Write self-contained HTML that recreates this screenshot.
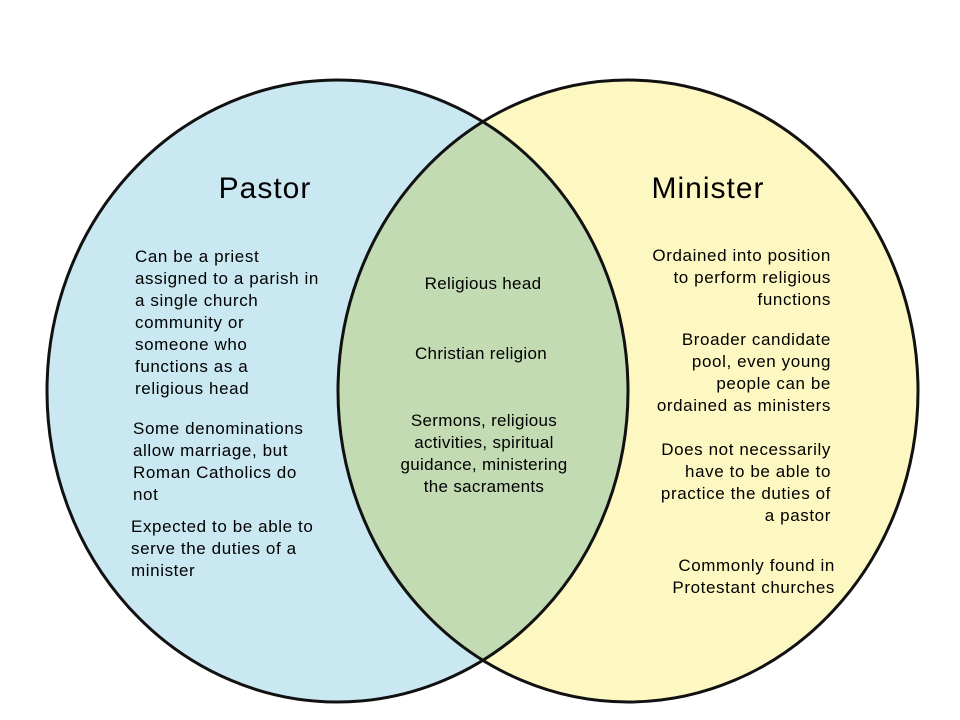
<!DOCTYPE html>
<html><head><meta charset="utf-8"><style>html,body{margin:0;padding:0;background:#fff}svg{display:block}</style></head>
<body>
<svg width="960" height="720" viewBox="0 0 960 720" xmlns="http://www.w3.org/2000/svg" font-family="Liberation Sans, Arial, sans-serif">
<defs>
<clipPath id="cl"><ellipse cx="337.5" cy="391" rx="290.5" ry="311"/></clipPath>
</defs>
<ellipse cx="337.5" cy="391" rx="290.5" ry="311" fill="#c9e8f2"/>
<ellipse cx="628" cy="391" rx="290" ry="311" fill="#fdf8c2"/>
<ellipse cx="628" cy="391" rx="290" ry="311" fill="#c2dbb3" clip-path="url(#cl)"/>
<ellipse cx="337.5" cy="391" rx="290.5" ry="311" fill="none" stroke="#111" stroke-width="3"/>
<ellipse cx="628" cy="391" rx="290" ry="311" fill="none" stroke="#111" stroke-width="3"/>
<g fill="#000" font-size="30" letter-spacing="1">
<text x="265" y="198" text-anchor="middle">Pastor</text>
<text x="708" y="198" text-anchor="middle">Minister</text>
</g>
<g fill="#000" font-size="17" letter-spacing="0.6">
<text x="135" y="262">Can be a priest</text>
<text x="135" y="284">assigned to a parish in</text>
<text x="135" y="306">a single church</text>
<text x="135" y="328">community or</text>
<text x="135" y="350">someone who</text>
<text x="135" y="372">functions as a</text>
<text x="135" y="394">religious head</text>
<text x="133" y="434">Some denominations</text>
<text x="133" y="456">allow marriage, but</text>
<text x="133" y="478">Roman Catholics do</text>
<text x="133" y="500">not</text>
<text x="131" y="532">Expected to be able to</text>
<text x="131" y="554">serve the duties of a</text>
<text x="131" y="576">minister</text>
<g text-anchor="middle" letter-spacing="0.3">
<text x="483" y="289">Religious head</text>
<text x="481" y="359">Christian religion</text>
<text x="484" y="426">Sermons, religious</text>
<text x="484" y="448">activities, spiritual</text>
<text x="484" y="470">guidance, ministering</text>
<text x="484" y="492">the sacraments</text>
</g>
<g text-anchor="end">
<text x="831" y="261">Ordained into position</text>
<text x="831" y="283">to perform religious</text>
<text x="831" y="305">functions</text>
<text x="831" y="345">Broader candidate</text>
<text x="831" y="367">pool, even young</text>
<text x="831" y="389">people can be</text>
<text x="831" y="411">ordained as ministers</text>
<text x="831" y="455">Does not necessarily</text>
<text x="831" y="477">have to be able to</text>
<text x="831" y="499">practice the duties of</text>
<text x="831" y="521">a pastor</text>
<text x="835" y="571">Commonly found in</text>
<text x="835" y="593">Protestant churches</text>
</g>
</g>
</svg>
</body></html>
